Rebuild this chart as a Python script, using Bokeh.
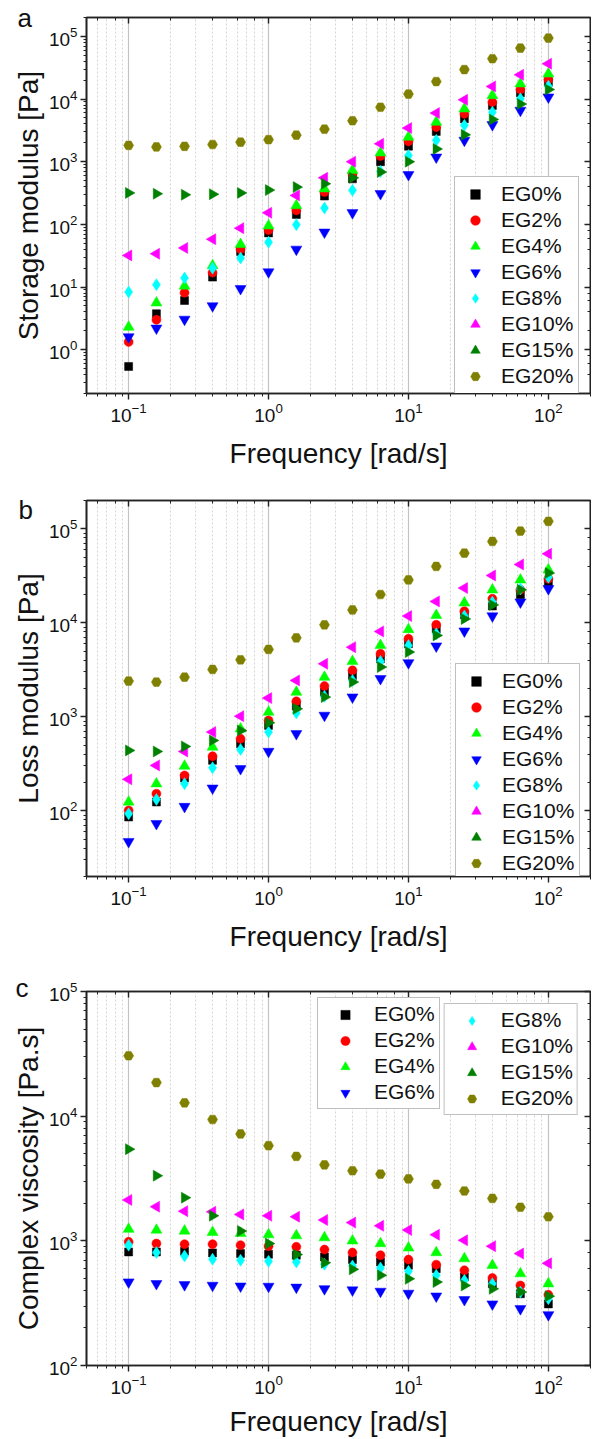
import math
from bokeh.plotting import figure
from bokeh.models import LogAxis, Legend, LegendItem, Range1d, CustomJSTickFormatter, Title
from bokeh.layouts import column
from bokeh.embed import file_html
from bokeh.resources import INLINE

# ---------------- data ----------------
freq = [0.1, 0.158, 0.251, 0.398, 0.631, 1.0, 1.58, 2.51, 3.98, 6.31,
        10.0, 15.8, 25.1, 39.8, 63.1, 100.0]
series_names = ["EG0%", "EG2%", "EG4%", "EG6%", "EG8%", "EG10%", "EG15%", "EG20%"]

# (a) storage modulus [Pa]
storage_eg0 = [0.54, 3.75, 6.1, 14.4, 37, 73, 144, 283, 533, 1000, 1770, 3040, 4830, 7900, 12560, 18600]
storage_eg2 = [1.33, 3.0, 8.1, 17, 40, 81, 167, 327, 641, 1228, 2110, 3560, 5800, 8920, 14200, 20500]
storage_eg4 = [2.3, 5.6, 10.4, 22, 48, 95, 200, 370, 727, 1387, 2470, 4280, 6980, 11400, 17500, 25200]
storage_eg6 = [1.6, 2.2, 3.05, 5.0, 9.4, 17.4, 40, 75, 153, 308, 620, 1180, 2190, 3880, 6580, 10720]
storage_eg8 = [8.3, 10.9, 13.9, 20, 29, 52, 99, 182, 349, 700, 1260, 2190, 3800, 6180, 10070, 16060]
storage_eg10 = [32, 34, 42, 58, 87, 153, 290, 553, 1000, 1930, 3440, 5960, 9700, 15900, 24300, 36600]
storage_eg15 = [318, 308, 297, 303, 318, 352, 393, 444, 553, 683, 1000, 1600, 2690, 4730, 8330, 14200]
storage_eg20 = [1820, 1720, 1760, 1880, 2050, 2250, 2650, 3300, 4500, 7400, 12000, 19000, 29500, 44000, 65000, 94000]

# (b) loss modulus [Pa]
loss_eg0 = [86, 124, 223, 344, 517, 810, 1300, 1830, 2750, 4140, 5990, 8630, 12200, 15100, 19900, 27100]
loss_eg2 = [101, 152, 238, 380, 583, 916, 1460, 2120, 3120, 4680, 6760, 9520, 13300, 18000, 22400, 29400]
loss_eg4 = [124, 194, 299, 477, 745, 1122, 1830, 2640, 3880, 5750, 8490, 12000, 16300, 22400, 28600, 36600]
loss_eg6 = [47, 73, 111, 174, 280, 428, 660, 1035, 1620, 2540, 3750, 5650, 8160, 11800, 16600, 23000]
loss_eg8 = [93, 132, 194, 287, 450, 687, 1100, 1650, 2440, 3880, 5740, 7640, 11800, 16600, 23000, 30600]
loss_eg10 = [216, 304, 428, 687, 1016, 1580, 2440, 3660, 5510, 8090, 11780, 16900, 23400, 31900, 41800, 54200]
loss_eg15 = [439, 428, 484, 561, 716, 863, 1216, 1620, 2340, 3380, 4880, 7340, 11000, 15500, 22400, 33800]
loss_eg20 = [2400, 2340, 2640, 3190, 4040, 5210, 6920, 9520, 13700, 20000, 28600, 39800, 55100, 73400, 94600, 120000]

# (c) complex viscosity [Pa.s]
visc_eg0 = [815, 815, 826, 800, 790, 781, 767, 743, 707, 677, 637, 598, 513, 453, 376, 312]
visc_eg2 = [982, 951, 940, 940, 923, 906, 895, 851, 805, 767, 707, 644, 580, 503, 439, 369]
visc_eg4 = [1240, 1220, 1200, 1170, 1150, 1120, 1100, 1060, 1000, 951, 878, 805, 720, 637, 545, 453]
visc_eg6 = [467, 453, 444, 439, 433, 431, 424, 412, 403, 393, 379, 360, 337, 311, 285, 255]
visc_eg8 = [923, 805, 757, 712, 699, 686, 677, 649, 629, 606, 569, 529, 482, 453, 388, 343]
visc_eg10 = [2130, 1880, 1730, 1710, 1630, 1590, 1560, 1470, 1400, 1320, 1220, 1120, 1010, 906, 790, 660]
visc_eg15 = [5440, 3330, 2220, 1590, 1200, 950, 776, 668, 591, 529, 496, 467, 439, 412, 388, 360]
visc_eg20 = [30500, 18600, 12800, 9400, 7200, 5800, 4760, 4070, 3650, 3430, 3140, 2840, 2510, 2190, 1860, 1560]

x_range_lims = (0.05, 200)
storage_range = (0.2, 2e5)
loss_range = (20, 2e5)
visc_range = (1e2, 1e5)

# ---------------- styles ----------------
FONT = "Liberation Sans"
colors = ["#000000", "#FF0000", "#00FF00", "#0000FF", "#00FFFF", "#FF00FF", "#008000", "#808000"]
markers = ["square", "circle", "triangle", "inverted_triangle", "diamond", "triangle", "triangle", "hex"]
angles = [0, 0, 0, 0, 0, math.pi / 2, -math.pi / 2, 0]
sizes = [8, 9, 11, 11, 12, 11, 11, 10]


def style_axis(ax, inward=False, hide_labels=False):
    ax.axis_line_width = 1.6
    ax.axis_line_color = "#222222"
    ax.major_tick_line_width = 1.4
    ax.minor_tick_line_width = 1.0
    ax.major_tick_line_color = "#222222"
    ax.minor_tick_line_color = "#222222"
    if inward:
        ax.major_tick_in, ax.major_tick_out = 6, 0
        ax.minor_tick_in, ax.minor_tick_out = 3, 0
    else:
        ax.major_tick_in, ax.major_tick_out = 0, 6
        ax.minor_tick_in, ax.minor_tick_out = 0, 3
    ax.major_label_text_font = FONT
    ax.major_label_text_font_size = "19px"
    ax.major_label_text_color = "#111111"
    ax.major_label_standoff = 3
    if hide_labels:
        ax.formatter = CustomJSTickFormatter(code="return '';")
        ax.major_label_standoff = 0
    ax.axis_label_text_font = FONT
    ax.axis_label_text_font_size = "28px"
    ax.axis_label_text_font_style = "normal"
    ax.axis_label_text_color = "#111111"


def make_panel(ys, ylabel, letter, letter_offset, letter_standoff, yr, border_top,
               border_bottom, frame_h, legend_mode, legend_loc=None, xlabel_standoff=13):
    p = figure(x_axis_type="log", y_axis_type="log",
               x_range=Range1d(*x_range_lims), y_range=Range1d(*yr),
               frame_width=504, frame_height=frame_h,
               min_border_left=86, min_border_right=1,
               min_border_top=border_top, min_border_bottom=border_bottom,
               output_backend="svg", toolbar_location=None)
    p.background_fill_color = "white"
    p.border_fill_color = "white"
    p.outline_line_color = "#222222"
    p.outline_line_width = 1.6

    p.xaxis.axis_label = "Frequency [rad/s]"
    p.yaxis.axis_label = ylabel
    style_axis(p.xaxis[0])
    style_axis(p.yaxis[0])
    p.xaxis.axis_label_standoff = xlabel_standoff
    p.yaxis.axis_label_standoff = 2

    top = LogAxis()
    style_axis(top, inward=True, hide_labels=True)
    p.add_layout(top, "above")
    right = LogAxis()
    style_axis(right, inward=True, hide_labels=True)
    p.add_layout(right, "right")

    # panel letter
    p.add_layout(Title(text=letter, align="left", offset=letter_offset,
                       standoff=letter_standoff, text_font=FONT, text_font_size="26px",
                       text_font_style="normal", text_color="#111111"), "above")

    p.ygrid.grid_line_color = None
    p.xgrid.grid_line_color = "#c4c4c4"
    p.xgrid.grid_line_width = 1.2
    p.xgrid.minor_grid_line_color = "#d4d4d4"
    p.xgrid.minor_grid_line_width = 1.0
    p.xgrid.minor_grid_line_dash = "2 2"

    renderers = []
    for name, yv, c, m, a, s in zip(series_names, ys, colors, markers, angles, sizes):
        r = p.scatter(freq, yv, marker=m, angle=a, size=s,
                      fill_color=c, line_color=c, line_width=0.5)
        renderers.append((name, r))

    def style_legend(lg, gw, gh, standoff, pad, spacing):
        lg.glyph_width = gw
        lg.glyph_height = gh
        lg.label_height = gh
        lg.label_standoff = standoff
        lg.padding = pad
        lg.spacing = spacing
        lg.label_text_font = FONT
        lg.label_text_font_size = "21px"
        lg.label_text_color = "#111111"
        lg.border_line_color = "#808080"
        lg.border_line_width = 1.5
        lg.background_fill_alpha = 1.0

    if legend_mode == "single":
        lg = Legend(items=[LegendItem(label=n, renderers=[r]) for n, r in renderers],
                    location=legend_loc)
        style_legend(lg, 30, 24, 11, 5, 2)
        lg.margin = 0
        p.add_layout(lg)
    else:
        lg1 = Legend(items=[LegendItem(label=n, renderers=[r]) for n, r in renderers[:4]],
                     location=(231, 256))
        lg2 = Legend(items=[LegendItem(label=n, renderers=[r]) for n, r in renderers[4:]],
                     location="top_right")
        for lg in (lg1, lg2):
            style_legend(lg, 46, 23, 6, 4, 2)
            p.add_layout(lg)
        lg1.margin = 0
        lg2.margin = 12
    return p


pa = make_panel([storage_eg0, storage_eg2, storage_eg4, storage_eg6, storage_eg8,
                 storage_eg10, storage_eg15, storage_eg20],
                "Storage modulus [Pa]", "a", -69, -30, storage_range, 17, 77, 376,
                "single", (368, -1))
pb = make_panel([loss_eg0, loss_eg2, loss_eg4, loss_eg6, loss_eg8,
                 loss_eg10, loss_eg15, loss_eg20],
                "Loss modulus [Pa]", "\nb", -68, -49, loss_range, 29, 80, 376,
                "single", (369, -5))
pc = make_panel([visc_eg0, visc_eg2, visc_eg4, visc_eg6, visc_eg8,
                 visc_eg10, visc_eg15, visc_eg20],
                "Complex viscosity [Pa.s]", "c", -71, -23, visc_range, 35, 73, 374,
                "double", xlabel_standoff=9)

layout = column(pa, pb, pc, spacing=0)
open("out.html", "w").write(file_html(layout, INLINE))
